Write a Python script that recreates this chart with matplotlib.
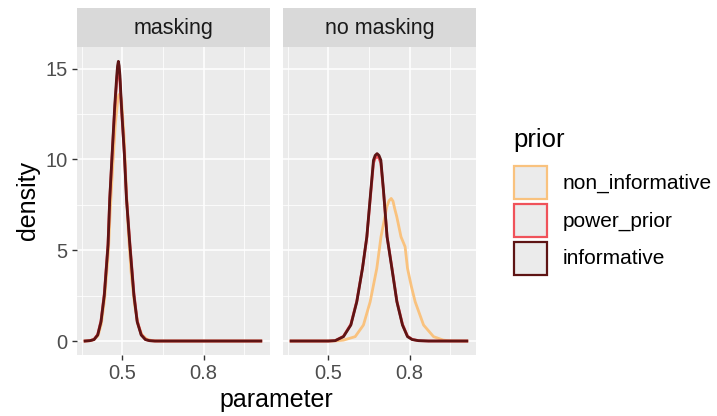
import matplotlib
matplotlib.use("Agg")
from matplotlib import pyplot as plt
from matplotlib.patches import Rectangle

plt.rcParams['font.family'] = ['Liberation Sans', 'DejaVu Sans']

facets = ["masking", "no masking"]
priors = ["non_informative", "power_prior", "informative"]
prior_colors = ["#F9C27E", "#F0525A", "#5E1414"]

# masking panel
mask_x_noninf = [0.362, 0.38, 0.395, 0.41, 0.422, 0.434, 0.448, 0.455, 0.464, 0.474, 0.483, 0.487, 0.49,
                 0.493, 0.497, 0.506, 0.514, 0.522, 0.532, 0.545, 0.558, 0.572, 0.59, 0.61, 0.63, 0.75, 0.9, 1.012]
mask_y_noninf = [0, 0.02, 0.08, 0.3, 0.95, 2.3, 4.9, 7.2, 9.6, 12.0, 13.3, 13.55, 13.6,
                 13.5, 13.2, 11.3, 8.5, 6.0, 3.8, 2.0, 0.9, 0.35, 0.1, 0.02, 0, 0, 0, 0]
mask_x_power = [0.362, 0.38, 0.395, 0.4086, 0.4208, 0.4331, 0.4468, 0.4532, 0.4617, 0.4717, 0.479, 0.482, 0.485,
                0.488, 0.491, 0.4963, 0.5074, 0.5149, 0.5275, 0.5424, 0.5546, 0.5695, 0.585, 0.60, 0.62, 0.75, 0.9, 1.012]
mask_y_power = [0, 0.02, 0.09, 0.36, 1.12, 2.62, 5.35, 7.85, 10.15, 12.8, 14.3, 14.8, 15.0,
                14.8, 14.3, 12.85, 10.3, 7.95, 5.4, 2.65, 1.12, 0.36, 0.09, 0.02, 0, 0, 0, 0]
mask_x_inf = [0.362, 0.38, 0.395, 0.4086, 0.4208, 0.4331, 0.4468, 0.4532, 0.4617, 0.4717, 0.479, 0.482, 0.485,
              0.488, 0.491, 0.4963, 0.5074, 0.5149, 0.5275, 0.5424, 0.5546, 0.5695, 0.585, 0.60, 0.62, 0.75, 0.9, 1.012]
mask_y_inf = [0, 0.02, 0.08, 0.33, 1.06, 2.53, 5.28, 7.85, 10.23, 12.98, 14.6, 15.15, 15.4,
              15.15, 14.6, 12.98, 10.23, 7.85, 5.28, 2.53, 1.06, 0.33, 0.08, 0.02, 0, 0, 0, 0]

# no masking panel
nomask_x_noninf = [0.362, 0.45, 0.50, 0.53, 0.556, 0.599, 0.6296, 0.6544, 0.679, 0.6945, 0.716, 0.724, 0.7322,
                   0.739, 0.745, 0.753, 0.7685, 0.7837, 0.7926, 0.807, 0.821, 0.852, 0.889, 0.925, 0.95, 1.012]
nomask_y_noninf = [0, 0, 0, 0.01, 0.05, 0.24, 0.88, 2.16, 4.0, 5.74, 7.39, 7.72, 7.85,
                   7.7, 7.3, 6.84, 5.74, 5.19, 4.0, 3.0, 2.16, 0.88, 0.24, 0.05, 0.01, 0]
nomask_x_power = [0.362, 0.45, 0.50, 0.525, 0.5556, 0.583, 0.605, 0.626, 0.6421, 0.657, 0.6667, 0.673, 0.680,
                  0.687, 0.694, 0.7037, 0.717, 0.7348, 0.7533, 0.774, 0.7926, 0.81, 0.833, 0.87, 0.95, 1.012]
nomask_y_power = [0, 0, 0, 0.02, 0.26, 0.92, 2.2, 4.0, 5.7, 8.2, 9.8, 10.07, 10.15,
                  10.07, 9.8, 8.25, 5.75, 4.05, 2.2, 0.92, 0.27, 0.09, 0.02, 0, 0, 0]
nomask_x_inf = [0.362, 0.45, 0.50, 0.525, 0.5556, 0.583, 0.605, 0.626, 0.6421, 0.657, 0.6667, 0.673, 0.680,
                0.687, 0.694, 0.7037, 0.717, 0.7348, 0.7533, 0.774, 0.7926, 0.81, 0.833, 0.87, 0.95, 1.012]
nomask_y_inf = [0, 0, 0, 0.02, 0.24, 0.88, 2.16, 4.0, 5.74, 8.31, 9.96, 10.22, 10.32,
                10.22, 9.96, 8.31, 5.74, 4.0, 2.16, 0.88, 0.24, 0.08, 0.02, 0, 0, 0]

x_ticks = [0.5, 0.8]
x_minor = [0.35, 0.65, 0.95]
y_ticks = [0, 5, 10, 15]
y_minor = [2.5, 7.5, 12.5]

curves = {
    "masking": [(mask_x_noninf, mask_y_noninf), (mask_x_power, mask_y_power), (mask_x_inf, mask_y_inf)],
    "no masking": [(nomask_x_noninf, nomask_y_noninf), (nomask_x_power, nomask_y_power), (nomask_x_inf, nomask_y_inf)],
}

W, H = 717, 416
fig = plt.figure(figsize=(W / 100, H / 100), dpi=100)

panel_left = [77, 283]
panel_w = 193
panel_top = 47
panel_bot = 355
strip_top = 8

for i, f in enumerate(facets):
    ax = fig.add_axes([panel_left[i] / W, 1 - panel_bot / H, panel_w / W, (panel_bot - panel_top) / H])
    ax.set_facecolor("#EBEBEB")
    for s in ax.spines.values():
        s.set_visible(False)
    for v in x_minor:
        ax.axvline(v, color="white", lw=0.55, zorder=0.5)
    for v in y_minor:
        ax.axhline(v, color="white", lw=0.55, zorder=0.5)
    for v in x_ticks:
        ax.axvline(v, color="white", lw=1.1, zorder=0.6)
    for v in y_ticks:
        ax.axhline(v, color="white", lw=1.1, zorder=0.6)
    for (xs, ys), c in zip(curves[f], prior_colors):
        ax.plot(xs, ys, color=c, lw=2.0, solid_joinstyle="round")
    ax.set_xlim(0.332, 1.046)
    ax.set_ylim(-0.77, 16.19)
    ax.set_xticks(x_ticks)
    ax.set_xticklabels([str(t) for t in x_ticks])
    ax.set_yticks(y_ticks)
    ax.tick_params(colors="#333333", labelcolor="#4D4D4D", labelsize=14.5, length=3.6, width=1.0, pad=3)
    if i == 1:
        ax.tick_params(axis="y", left=False, labelleft=False)

    sax = fig.add_axes([panel_left[i] / W, 1 - 46.5 / H, panel_w / W, (46.5 - strip_top) / H])
    sax.set_facecolor("#D9D9D9")
    sax.set_xticks([])
    sax.set_yticks([])
    for s in sax.spines.values():
        s.set_visible(False)
    sax.text(0.5, 0.48, f, ha="center", va="center", fontsize=15.5, color="#1A1A1A", transform=sax.transAxes)

fig.text(28 / W, 1 - 201 / H, "density", rotation=90, ha="center", va="center", fontsize=18)
fig.text(276.5 / W, 1 - 407 / H, "parameter", ha="center", va="baseline", fontsize=18)

# legend
fig.text(513 / W, 1 - 147 / H, "prior", ha="left", va="baseline", fontsize=18.5)
key_tops = [165, 203, 241]
for top, name, c in zip(key_tops, priors, prior_colors):
    fig.add_artist(Rectangle((514 / W, 1 - (top + 34) / H), 33 / W, 33 / H, transform=fig.transFigure,
                             facecolor="#EBEBEB", edgecolor=c, lw=1.6))
    fig.text(563 / W, 1 - (top + 18) / H, name, ha="left", va="center", fontsize=15)

fig.savefig("out.png", dpi=100)
